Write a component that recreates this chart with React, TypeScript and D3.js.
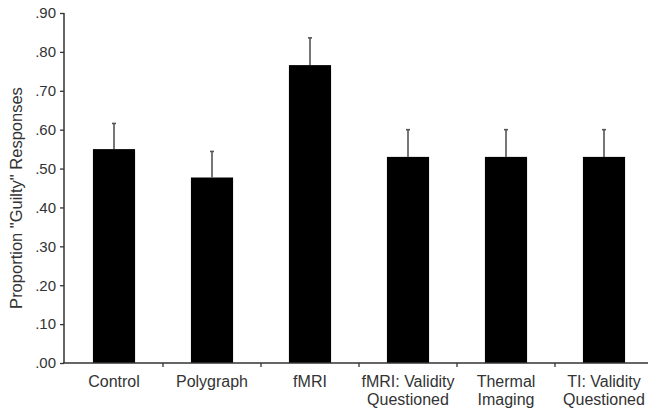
import { useEffect, useRef } from "react";
import * as d3 from "d3";

// categories, means and upper error (mean + SE)
const categories = [
  ["Control"],
  ["Polygraph"],
  ["fMRI"],
  ["fMRI: Validity", "Questioned"],
  ["Thermal", "Imaging"],
  ["TI: Validity", "Questioned"],
];
const means = [0.55, 0.477, 0.766, 0.53, 0.53, 0.53];
const errors = [0.066, 0.067, 0.07, 0.07, 0.07, 0.07];
const yTicks = [0, 0.1, 0.2, 0.3, 0.4, 0.5, 0.6, 0.7, 0.8, 0.9];

const W = 648;
const H = 408;

export default function App() {
  const ref = useRef<SVGSVGElement>(null);

  useEffect(() => {
    if (!ref.current) return;
    const svg = d3.select(ref.current);
    svg.selectAll("*").remove();

    const left = 65;
    const top = 13;
    const bottom = 363;
    const font = "Liberation Sans, Arial, sans-serif";
    const ink = "#333";

    const x = d3
      .scaleBand<number>()
      .domain(d3.range(categories.length))
      .range([left, left + 98 * categories.length])
      .paddingInner(0.57)
      .paddingOuter(0.285);

    const y = d3.scaleLinear().domain([0, 0.9]).range([bottom, top]);

    // bars
    svg
      .append("g")
      .selectAll("rect")
      .data(means)
      .join("rect")
      .attr("x", (_d, i) => x(i)!)
      .attr("y", (d) => y(d))
      .attr("width", x.bandwidth())
      .attr("height", (d) => y(0) - y(d))
      .attr("fill", "#000");

    // error bars (upper only)
    const eb = svg.append("g").attr("stroke", "#555").attr("stroke-width", 1.6);
    means.forEach((m, i) => {
      const cx = x(i)! + x.bandwidth() / 2;
      eb.append("line")
        .attr("x1", cx)
        .attr("x2", cx)
        .attr("y1", y(m))
        .attr("y2", y(m + errors[i]));
      eb.append("line")
        .attr("x1", cx - 2)
        .attr("x2", cx + 2)
        .attr("y1", y(m + errors[i]))
        .attr("y2", y(m + errors[i]));
    });

    // y axis
    const yAxis = svg
      .append("g")
      .attr("transform", `translate(${left - 1},0)`)
      .call(
        d3
          .axisLeft(y)
          .tickValues(yTicks)
          .tickSize(4)
          .tickPadding(4)
          .tickFormat((d) => d3.format(".2f")(d as number).replace(/^0/, ""))
      );
    yAxis.select(".domain").attr("stroke", ink).attr("stroke-width", 1.5).attr("d", `M0,${top}V${bottom}`);
    yAxis.selectAll(".tick line").attr("stroke", ink).attr("stroke-width", 1.3);
    yAxis
      .selectAll("text")
      .attr("fill", ink)
      .style("font-family", font)
      .style("font-size", "15px");

    // x axis: line plus ticks between categories
    const xg = svg.append("g");
    xg.append("line")
      .attr("x1", left - 2)
      .attr("x2", W)
      .attr("y1", bottom)
      .attr("y2", bottom)
      .attr("stroke", ink)
      .attr("stroke-width", 1.5);
    const step = x.step();
    d3.range(1, categories.length).forEach((i) => {
      const bx = x(i)! - (step - x.bandwidth()) / 2;
      xg.append("line")
        .attr("x1", bx)
        .attr("x2", bx)
        .attr("y1", bottom)
        .attr("y2", bottom + 4)
        .attr("stroke", ink)
        .attr("stroke-width", 1.3);
    });

    const labels = svg
      .append("g")
      .attr("fill", ink)
      .style("font-family", font)
      .style("font-size", "16px")
      .attr("text-anchor", "middle");
    categories.forEach((lines, i) => {
      const t = labels
        .append("text")
        .attr("x", x(i)! + x.bandwidth() / 2)
        .attr("y", 387);
      lines.forEach((ln, j) => {
        t.append("tspan")
          .attr("x", x(i)! + x.bandwidth() / 2)
          .attr("dy", j === 0 ? 0 : 18)
          .text(ln);
      });
    });

    // y label
    svg
      .append("text")
      .attr("transform", `translate(22,${(top + bottom) / 2 + 10}) rotate(-90)`)
      .attr("text-anchor", "middle")
      .attr("fill", ink)
      .style("font-family", font)
      .style("font-size", "16.5px")
      .text("Proportion \"Guilty\" Responses");
  }, []);

  return (
    <svg
      ref={ref}
      width={W}
      height={H}
      style={{ position: "absolute", left: 0, top: 0, background: "#fff" }}
    ></svg>
  );
}
